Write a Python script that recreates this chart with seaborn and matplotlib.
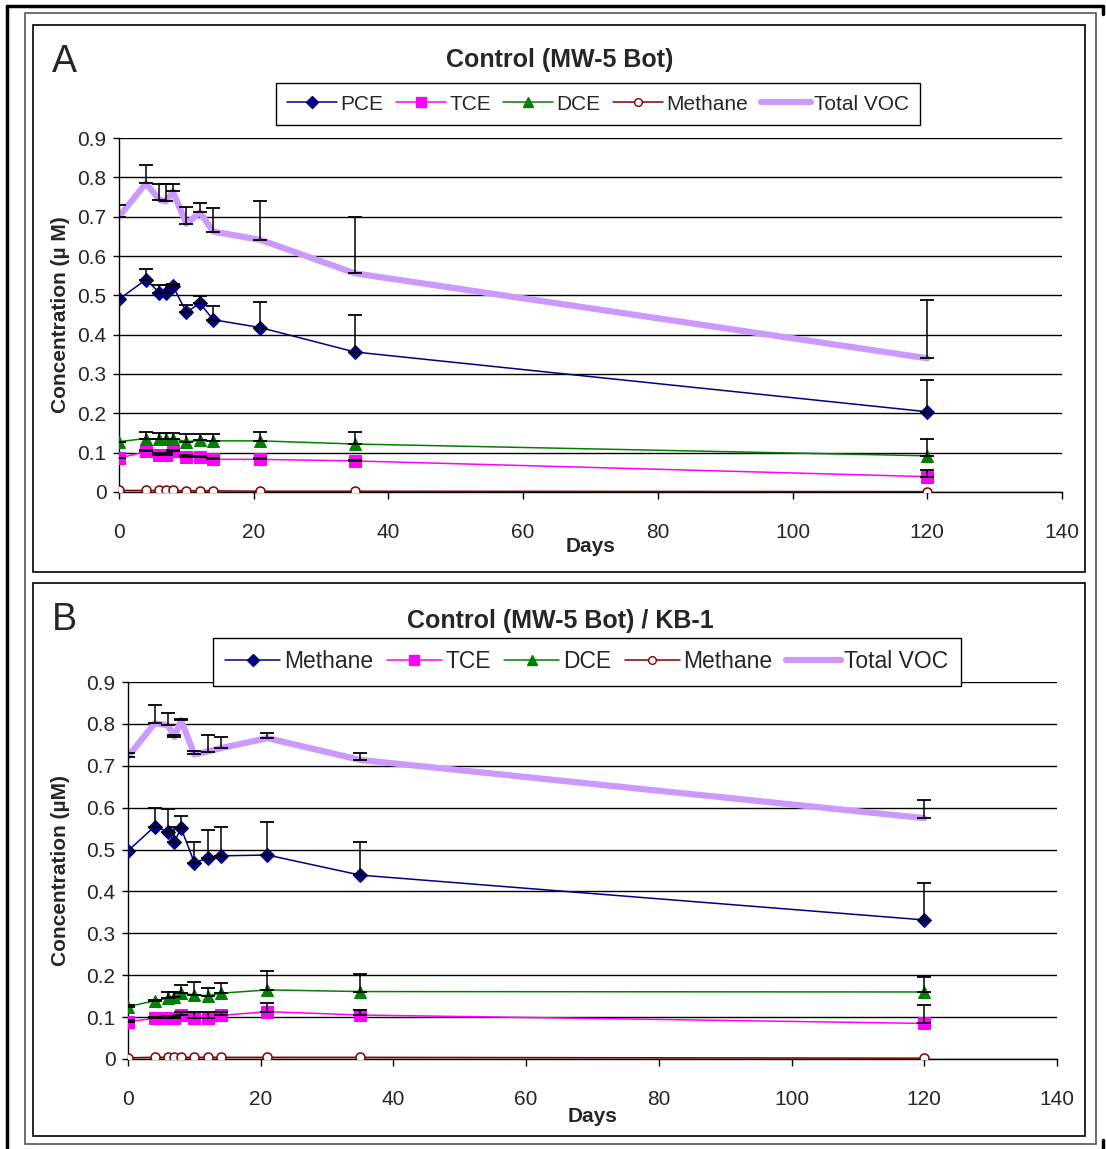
import matplotlib
matplotlib.use("Agg")
import matplotlib.pyplot as plt
from matplotlib.patches import Rectangle
from matplotlib.lines import Line2D
import seaborn as sns

# ---------------- data ----------------
days = [0, 4, 6, 7, 8, 10, 12, 14, 21, 35, 120]

# Panel A: Control (MW-5 Bot)
pce_a = [0.490, 0.540, 0.507, 0.505, 0.524, 0.457, 0.480, 0.438, 0.418, 0.356, 0.204]
pce_a_err = [0.0, 0.027, 0.020, 0.022, 0.005, 0.019, 0.019, 0.035, 0.064, 0.094, 0.081]
tce_a = [0.086, 0.103, 0.094, 0.094, 0.103, 0.090, 0.089, 0.083, 0.083, 0.079, 0.039]
tce_a_err = [0.0, 0.005, 0.005, 0.005, 0.005, 0.003, 0.003, 0.003, 0.003, 0.003, 0.017]
dce_a = [0.128, 0.136, 0.134, 0.134, 0.136, 0.128, 0.131, 0.130, 0.130, 0.122, 0.092]
dce_a_err = [0.0, 0.017, 0.015, 0.015, 0.013, 0.020, 0.017, 0.018, 0.023, 0.031, 0.042]
meth_a = [0.004, 0.004, 0.004, 0.004, 0.004, 0.003, 0.003, 0.003, 0.002, 0.002, 0.001]
voc_a = [0.700, 0.785, 0.743, 0.739, 0.764, 0.682, 0.711, 0.662, 0.641, 0.556, 0.340]
voc_a_err = [0.030, 0.047, 0.041, 0.045, 0.020, 0.042, 0.024, 0.059, 0.100, 0.143, 0.149]

# Panel B: Control (MW-5 Bot) / KB-1
pce_b = [0.497, 0.555, 0.543, 0.519, 0.551, 0.469, 0.479, 0.485, 0.487, 0.439, 0.332]
pce_b_err = [0.0, 0.045, 0.053, 0.036, 0.030, 0.050, 0.068, 0.070, 0.078, 0.079, 0.089]
tce_b = [0.089, 0.097, 0.097, 0.097, 0.105, 0.097, 0.097, 0.104, 0.113, 0.105, 0.085]
tce_b_err = [0.003, 0.003, 0.005, 0.005, 0.008, 0.015, 0.015, 0.008, 0.020, 0.012, 0.044]
dce_b = [0.125, 0.139, 0.145, 0.147, 0.157, 0.153, 0.151, 0.157, 0.165, 0.161, 0.160]
dce_b_err = [0.005, 0.003, 0.016, 0.014, 0.020, 0.032, 0.018, 0.024, 0.046, 0.042, 0.036]
meth_b = [0.003, 0.004, 0.004, 0.004, 0.004, 0.004, 0.004, 0.004, 0.004, 0.004, 0.002]
voc_b = [0.722, 0.801, 0.797, 0.769, 0.809, 0.727, 0.734, 0.742, 0.766, 0.714, 0.575]
voc_b_err = [0.009, 0.044, 0.028, 0.004, 0.002, 0.008, 0.039, 0.026, 0.013, 0.017, 0.043]

labels_a = ["PCE", "TCE", "DCE", "Methane", "Total VOC"]
labels_b = ["Methane", "TCE", "DCE", "Methane", "Total VOC"]
titles = ["Control (MW-5 Bot)", "Control (MW-5 Bot) / KB-1"]
ylabels = ["Concentration (\u00b5 M)", "Concentration (\u00b5M)"]
panel_tags = ["A", "B"]
x_ticks = [0, 20, 40, 60, 80, 100, 120, 140]
y_ticks = [0, 0.1, 0.2, 0.3, 0.4, 0.5, 0.6, 0.7, 0.8, 0.9]
y_ticklabels = ["0", "0.1", "0.2", "0.3", "0.4", "0.5", "0.6", "0.7", "0.8", "0.9"]

# ---------------- style ----------------
sns.set_style("white")
plt.rcParams["font.family"] = ["Liberation Sans", "DejaVu Sans"]

W, H = 1106, 1149
fig = plt.figure(figsize=(W / 100, H / 100), dpi=100)


def fx(px):
    return px / W


def fy(py):
    return 1 - py / H


# frames
fig.add_artist(Line2D([fx(7), fx(7)], [fy(6), fy(1149)], color="black", lw=2.5))
fig.add_artist(Line2D([fx(7), fx(1103)], [fy(6), fy(6)], color="black", lw=2.5))
fig.add_artist(Line2D([fx(1103), fx(1103)], [fy(6), fy(14)], color="black", lw=2.5))
fig.add_artist(Line2D([fx(1103), fx(1103)], [fy(1140), fy(1149)], color="black", lw=2.5))
fig.add_artist(Rectangle((fx(25), fy(1144)), fx(1096) - fx(25), fy(13) - fy(1144),
                         fill=False, edgecolor="#555555", lw=1.2))
fig.add_artist(Rectangle((fx(33), fy(572)), fx(1085) - fx(33), fy(25) - fy(572),
                         fill=False, edgecolor="black", lw=1.2))
fig.add_artist(Rectangle((fx(33), fy(1136)), fx(1085) - fx(33), fy(583) - fy(1136),
                         fill=False, edgecolor="black", lw=1.2))

axes_px = [(119, 1062, 138, 492), (128, 1057, 682, 1059)]
panels = [
    (pce_a, pce_a_err, tce_a, tce_a_err, dce_a, dce_a_err, meth_a, voc_a, voc_a_err),
    (pce_b, pce_b_err, tce_b, tce_b_err, dce_b, dce_b_err, meth_b, voc_b, voc_b_err),
]
legend_centers = [(598, 104), (587, 662)]
legend_fs = [15, 16.5]
title_y = [60, 621]
tag_y = [62, 620]
ylab_x = [-0.052, -0.062]
xlab_y = [-0.128, -0.127]

for i in range(2):
    l, r, t, b = axes_px[i]
    ax = fig.add_axes([fx(l), fy(b), fx(r) - fx(l), fy(t) - fy(b)])
    pce, pce_e, tce, tce_e, dce, dce_e, meth, voc, voc_e = panels[i]
    labs = labels_a if i == 0 else labels_b

    sns.lineplot(x=days, y=voc, ax=ax, color="#CC99FF", lw=4.5, sort=False,
                 errorbar=None, zorder=2)
    sns.lineplot(x=days, y=pce, ax=ax, color="#000080", lw=1.1, marker="D",
                 markersize=7.5, markeredgecolor="#000080", sort=False, errorbar=None, zorder=3)
    sns.lineplot(x=days, y=tce, ax=ax, color="#FF00FF", lw=1.1, marker="s",
                 markersize=8, markeredgecolor="#FF00FF", sort=False, errorbar=None, zorder=3)
    sns.lineplot(x=days, y=dce, ax=ax, color="#008000", lw=1.1, marker="^",
                 markersize=8.5, markeredgecolor="#008000", sort=False, errorbar=None, zorder=3)
    sns.lineplot(x=days, y=meth, ax=ax, color="#800000", lw=1.1, marker="o",
                 markersize=6.5, markerfacecolor="white", markeredgecolor="#800000",
                 markeredgewidth=1.1, sort=False, errorbar=None, zorder=3)

    for vals, errs in [(voc, voc_e), (pce, pce_e), (dce, dce_e), (tce, tce_e)]:
        ax.errorbar(days, vals, yerr=[[0] * len(errs), errs], fmt="none",
                    ecolor="black", elinewidth=1.1, capsize=4.8, capthick=1.3, zorder=4)

    ax.set_xlim(0, 140)
    ax.set_ylim(0, 0.9)
    ax.set_xticks(x_ticks)
    ax.set_xticklabels([str(v) for v in x_ticks])
    ax.set_yticks(y_ticks)
    ax.set_yticklabels(y_ticklabels)
    ax.yaxis.grid(True, color="black", lw=1.0)
    ax.xaxis.grid(False)
    ax.set_axisbelow(True)
    for s in ["top", "right"]:
        ax.spines[s].set_visible(False)
    for s in ["left", "bottom"]:
        ax.spines[s].set_color("black")
        ax.spines[s].set_linewidth(1.0)
    ax.tick_params(axis="x", direction="out", length=5, width=1, color="black",
                   pad=17, labelsize=15, bottom=True)
    ax.tick_params(axis="y", direction="out", length=4, width=1, color="black",
                   pad=5, labelsize=15, left=True)

    ax.set_xlabel("Days", fontsize=15, fontweight="bold")
    ax.xaxis.set_label_coords(0.5, xlab_y[i])
    ax.set_ylabel(ylabels[i], fontsize=15, fontweight="bold")
    ax.yaxis.set_label_coords(ylab_x[i], 0.5)

    handles = [
        Line2D([], [], color="#000080", lw=1.1, marker="D", markersize=6.5),
        Line2D([], [], color="#FF00FF", lw=1.1, marker="s", markersize=6.5),
        Line2D([], [], color="#008000", lw=1.1, marker="^", markersize=7.5),
        Line2D([], [], color="#800000", lw=1.1, marker="o", markersize=5.5,
               markerfacecolor="white"),
        Line2D([], [], color="#CC99FF", lw=4.5),
    ]
    lx, ly = legend_centers[i]
    leg = fig.legend(handles, labs, loc="center", bbox_to_anchor=(fx(lx), fy(ly)),
                     ncol=5, frameon=True, fancybox=False, edgecolor="black",
                     framealpha=1, fontsize=legend_fs[i], handlelength=2.4,
                     handletextpad=0.15, columnspacing=0.6, borderpad=0.55)
    leg.get_frame().set_linewidth(1.0)

    fig.text(fx(560), fy(title_y[i]), titles[i], ha="center", va="center",
             fontsize=18, fontweight="bold")
    fig.text(fx(64), fy(tag_y[i]), panel_tags[i], ha="center", va="center",
             fontsize=27)

fig.savefig("out.png", dpi=100)
